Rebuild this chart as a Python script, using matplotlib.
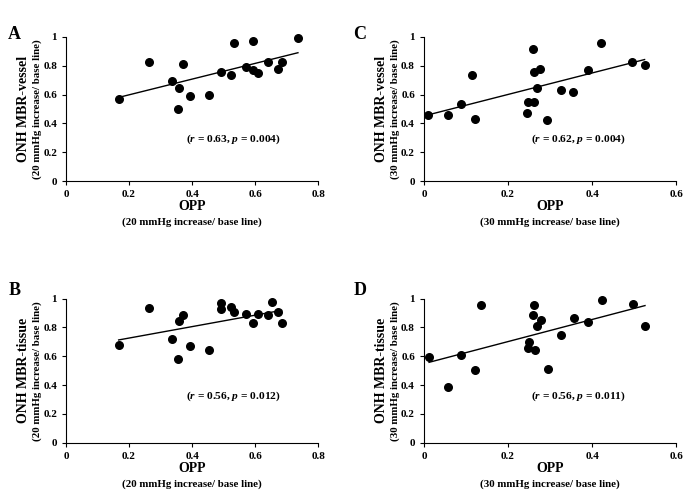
import numpy as np
import matplotlib.pyplot as plt
from matplotlib.ticker import FuncFormatter

plt.rcParams['font.family'] = ['Liberation Serif', 'DejaVu Serif']
plt.rcParams['font.weight'] = 'bold'
plt.rcParams['mathtext.fontset'] = 'custom'
plt.rcParams['mathtext.it'] = 'Liberation Serif:italic:bold'
plt.rcParams['mathtext.rm'] = 'Liberation Serif:bold'

# Panel A / B (20 mmHg)
opp20 = [0.167, 0.263, 0.335, 0.358, 0.372, 0.354, 0.392, 0.455, 0.493, 0.523,
         0.534, 0.572, 0.592, 0.593, 0.609, 0.640, 0.674, 0.684, 0.736]
vessel20 = [0.568, 0.824, 0.697, 0.644, 0.813, 0.501, 0.589, 0.594, 0.757, 0.734,
            0.961, 0.790, 0.769, 0.972, 0.753, 0.824, 0.778, 0.824, 0.995]
opp20_b = [0.167, 0.263, 0.335, 0.358, 0.372, 0.354, 0.392, 0.455, 0.493, 0.493,
           0.523, 0.534, 0.572, 0.592, 0.609, 0.640, 0.653, 0.674, 0.684]
tissue20 = [0.681, 0.933, 0.721, 0.843, 0.889, 0.584, 0.672, 0.642, 0.972, 0.931,
            0.945, 0.905, 0.894, 0.829, 0.894, 0.885, 0.979, 0.905, 0.829]

# Panel C / D (30 mmHg)
opp30_c = [0.010, 0.056, 0.087, 0.114, 0.121, 0.246, 0.248, 0.259, 0.262, 0.262,
           0.268, 0.277, 0.293, 0.327, 0.355, 0.390, 0.422, 0.496, 0.525]
vessel30 = [0.457, 0.457, 0.538, 0.738, 0.432, 0.471, 0.547, 0.913, 0.759, 0.547,
            0.648, 0.777, 0.423, 0.634, 0.621, 0.772, 0.956, 0.825, 0.807]
opp30_d = [0.012, 0.057, 0.087, 0.122, 0.136, 0.247, 0.250, 0.262, 0.260, 0.263,
           0.268, 0.278, 0.295, 0.327, 0.356, 0.391, 0.423, 0.497, 0.526]
tissue30 = [0.594, 0.390, 0.610, 0.506, 0.956, 0.658, 0.700, 0.954, 0.889, 0.647,
            0.808, 0.852, 0.513, 0.748, 0.868, 0.841, 0.993, 0.965, 0.813]

stats = {'A': ('0.63', '0.004'), 'B': ('0.56', '0.012'),
         'C': ('0.62', '0.004'), 'D': ('0.56', '0.011')}

panels = [
    ('A', opp20, vessel20, 'ONH MBR-vessel', '20', 0.8, (0.53, 0.29)),
    ('B', opp20_b, tissue20, 'ONH MBR-tissue', '20', 0.8, (0.53, 0.32)),
    ('C', opp30_c, vessel30, 'ONH MBR-vessel', '30', 0.6, (0.367, 0.29)),
    ('D', opp30_d, tissue30, 'ONH MBR-tissue', '30', 0.6, (0.367, 0.32)),
]
positions = {'A': [0.0964, 0.632, 0.368, 0.293],
             'B': [0.0964, 0.100, 0.368, 0.293],
             'C': [0.619, 0.632, 0.368, 0.293],
             'D': [0.619, 0.100, 0.368, 0.293]}
letter_pos = {'A': (0.012, 0.930), 'B': (0.012, 0.410), 'C': (0.516, 0.930), 'D': (0.516, 0.410)}

fmt = FuncFormatter(lambda v, p: '%g' % round(v, 2))

fig = plt.figure(figsize=(6.85, 4.92), dpi=100)
for name, x, y, ylab, mm, xmax, npos in panels:
    ax = fig.add_axes(positions[name])
    x = np.array(x)
    y = np.array(y)
    ax.scatter(x, y, s=30, color='black', zorder=3, clip_on=False)
    k, b = np.polyfit(x, y, 1)
    xl = np.array([x.min(), x.max()])
    ax.plot(xl, k * xl + b, color='black', lw=1)
    ax.set_xlim(0, xmax)
    ax.set_ylim(0, 1)
    ax.set_xticks(np.arange(0, xmax + 0.01, 0.2))
    ax.set_yticks(np.arange(0, 1.01, 0.2))
    ax.xaxis.set_major_formatter(fmt)
    ax.yaxis.set_major_formatter(fmt)
    ax.tick_params(labelsize=8, length=3, width=0.8)
    for s in ['top', 'right']:
        ax.spines[s].set_visible(False)
    ax.text(0.5, -0.178, 'OPP', transform=ax.transAxes,
            ha='center', va='center', fontsize=10, fontweight='bold')
    ax.text(0.5, -0.287, '(%s mmHg increase/ base line)' % mm, transform=ax.transAxes,
            ha='center', va='center', fontsize=7.8, fontweight='bold')
    ax.text(-0.168, 0.5, ylab, transform=ax.transAxes, rotation=90,
            ha='center', va='center', fontsize=10, fontweight='bold')
    ax.text(-0.113, 0.5, '(%s mmHg increase/ base line)' % mm, transform=ax.transAxes,
            rotation=90, ha='center', va='center', fontsize=7.8, fontweight='bold')
    r_val, p_val = stats[name]
    ax.text(npos[0], npos[1], r'($r$ = %s, $p$ = %s)' % (r_val, p_val),
            ha='center', va='center', fontsize=8.2, fontweight='bold')
    fig.text(letter_pos[name][0], letter_pos[name][1], name, fontsize=13,
             fontweight='bold', va='center')

fig.savefig('out.png', dpi=100)
